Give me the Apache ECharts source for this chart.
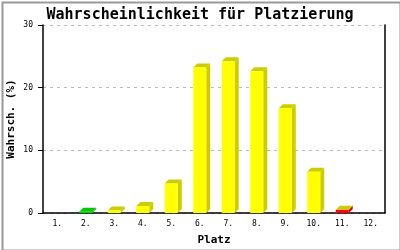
<!DOCTYPE html>
<html><head><meta charset="utf-8">
<script src="https://cdn.jsdelivr.net/npm/echarts@6/dist/echarts.min.js"></script>
<style>html,body{margin:0;padding:0;background:#fff}#c{width:400px;height:250px}</style>
</head><body><div id="c"></div>
<script>
const categories = ['1.','2.','3.','4.','5.','6.','7.','8.','9.','10.','11.','12.'];
const values = [0, 0.2, 0.4, 1.1, 4.7, 23.2, 24.2, 22.6, 16.7, 6.6, 0.5, 0];
const yTicks = [0, 10, 20, 30];
const titleText = 'Wahrscheinlichkeit für Platzierung';
const yName = 'Wahrsch. (%)';
const xName = 'Platz';

const FONT = '"DejaVu Sans Mono", "Liberation Mono", monospace';
const styleFor = function (i) {
  if (i === 1) return { front: '#00cc00', side: '#00aa00', top: '#00cc00' };
  if (i === 10) return { front: '#ff0000', side: '#dd0000', top: '#cccc00' };
  return { front: '#ffff00', side: '#cccc00', top: '#cccc00' };
};

const chart = echarts.init(document.getElementById('c'), null, { renderer: 'canvas' });
chart.setOption({
  animation: false,
  backgroundColor: '#fff',
  title: {
    text: titleText, left: 'center', top: 3,
    textStyle: { fontFamily: FONT, fontWeight: 'bold', fontSize: 15, color: '#000' }
  },
  graphic: [{
    type: 'rect', left: 0, top: 0, z: 100,
    shape: { x: 1, y: 1, width: 398, height: 248 },
    style: { fill: 'none', stroke: '#999', lineWidth: 2 }
  }],
  grid: { left: 43, right: 15, top: 25, bottom: 37, containLabel: false, outerBoundsMode: 'none' },
  xAxis: {
    type: 'category', data: categories,
    name: xName, nameLocation: 'middle', nameGap: 22, nameMoveOverlap: false,
    nameTextStyle: { fontFamily: FONT, fontWeight: 'bold', fontSize: 11, color: '#000' },
    axisLine: { lineStyle: { color: '#000', width: 1.5 } },
    axisTick: { show: false },
    axisLabel: { fontFamily: FONT, fontSize: 8, color: '#000', margin: 7 },
    splitLine: { show: false }
  },
  yAxis: [{
    type: 'value', min: 0, max: 30, interval: 10,
    name: yName, nameLocation: 'middle', nameGap: 26, nameMoveOverlap: false,
    nameTextStyle: { fontFamily: FONT, fontWeight: 'bold', fontSize: 11, color: '#000' },
    axisLine: { show: true, lineStyle: { color: '#000', width: 1.5 } },
    axisTick: { show: true, length: 5, lineStyle: { color: '#000' } },
    axisLabel: { fontFamily: FONT, fontSize: 8, color: '#000', margin: 10,
      formatter: function (v) { return yTicks.indexOf(v) >= 0 ? String(v) : ''; } },
    splitLine: { show: true, lineStyle: { color: '#bbb', type: [3, 4], width: 1 } }
  }, {
    type: 'value', min: 0, max: 30, interval: 10, position: 'right',
    axisLine: { show: true, onZero: false, lineStyle: { color: '#000', width: 1.5 } },
    axisTick: { show: false }, axisLabel: { show: false }, splitLine: { show: false }
  }],
  series: [{
    type: 'custom',
    data: values.map(function (v, i) { return [i, v]; }),
    renderItem: function (params, api) {
      const i = api.value(0), v = api.value(1);
      if (!(v > 0)) return { type: 'group', children: [] };
      const p = api.coord([i, v]);
      const p0 = api.coord([i, 0]);
      const w = 13, d = 4;
      const l = p[0] - w / 2, r = l + w, t = p[1], b = p0[1];
      const s = styleFor(i);
      return {
        type: 'group',
        children: [
          { type: 'polygon', shape: { points: [[r, b], [r + d, b - d], [r + d, t - d], [r, t]] }, style: { fill: s.side } },
          { type: 'polygon', shape: { points: [[l, t], [l + d, t - d], [r + d, t - d], [r, t]] }, style: { fill: s.top } },
          { type: 'rect', shape: { x: l, y: t, width: w, height: b - t }, style: { fill: s.front } }
        ]
      };
    }
  }]
});
</script></body></html>
